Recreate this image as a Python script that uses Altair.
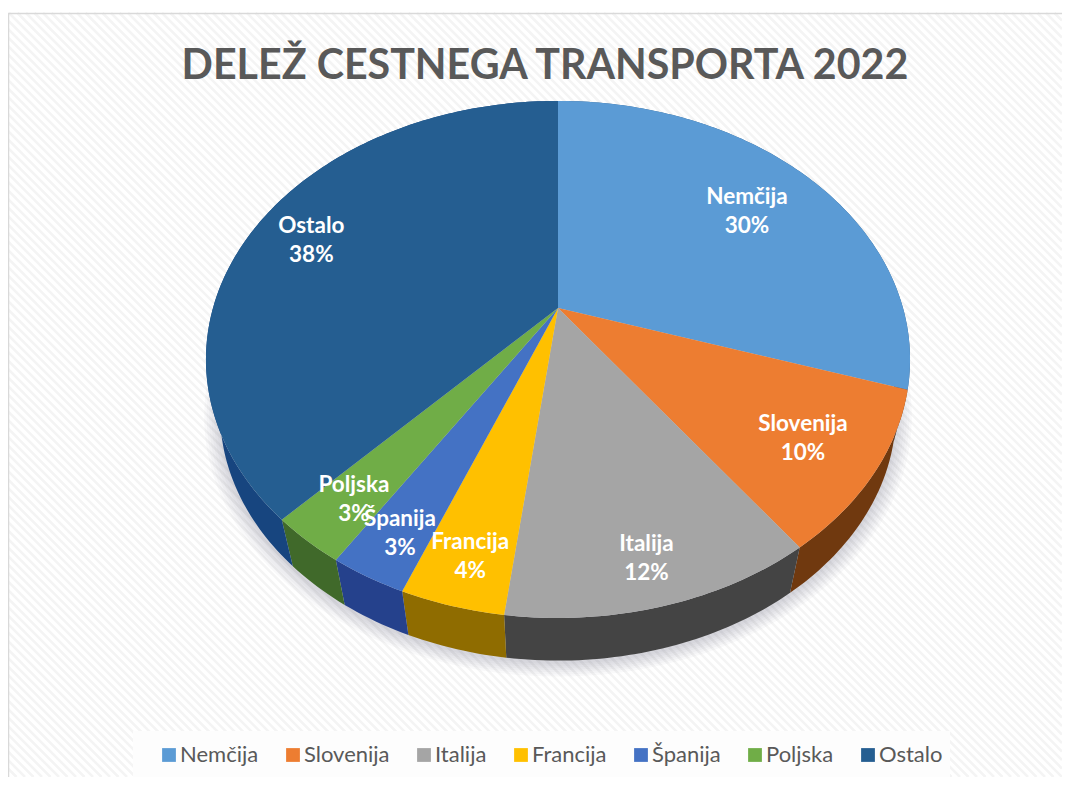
import math
import altair as alt

# ---- chart values ----
names = ["Nemčija", "Slovenija", "Italija", "Francija", "Španija", "Poljska", "Ostalo"]
shares = [30, 10, 12, 4, 3, 3, 38]
top_colors = ["#5B9BD5", "#ED7D31", "#A5A5A5", "#FFC000", "#4472C4", "#70AD47", "#255E91"]
wall_colors = ["#2f5f8c", "#70390f", "#444444", "#8f6c00", "#25418c", "#40692a", "#17457f"]
label_radius = [0.735, 0.796, 0.86, 0.855, 0.856, 0.838, 0.815]

# ---- layout (chart pixels; the page margin is 8) ----
W, H = 1054, 769
CX, CY = 550.0, 300.0     # apex of the pie
R, KY, K = 345.0, 248.3, 0.199   # tilted-disc perspective
DEPTH, SHRINK = 55.0, 0.96


def top(frac, t=1.0):
    a = 2 * math.pi * frac
    u, v = math.sin(a) * t, -math.cos(a) * t
    d = 1 - K * v
    return [CX + R * u / d, CY + KY * v / d]


def bottom(frac, grow=0.0):
    x, y = top(frac)
    return [CX + (SHRINK + grow) * (x - CX), CY + DEPTH + (SHRINK + grow) * (y - CY)]


def arc(fn, a, b):
    n = max(2, int((b - a) * 360))
    return [fn(a + (b - a) * i / n) for i in range(n + 1)]


def feature(kind, coords, **props):
    return {"type": "Feature", "geometry": {"type": kind, "coordinates": coords}, "properties": props}


def box(x0, y0, x1, y1):
    return feature("Polygon", [[[x0, y0], [x1, y0], [x1, y1], [x0, y1], [x0, y0]]])


proj = dict(type="identity", scale=1, translate=[0, 0])

# slices
tops, walls, labels = [], [], []
acc = 0.0
for i, (name, share) in enumerate(zip(names, shares)):
    a, b = acc / 100, (acc + share) / 100
    acc += share
    p_top = arc(top, a, b)
    p_bot = arc(bottom, a, b)
    tops.append(feature("Polygon", [[[CX, CY]] + p_top + [[CX, CY]]], name=name))
    walls.append(feature("Polygon", [p_top + p_bot[::-1] + [p_top[0]]], color=wall_colors[i]))
    lon, lat = top((a + b) / 2, label_radius[i])
    labels.append({"lon": lon, "lat": lat, "text": f"{name}\n{share}%"})

# soft shadow under the pie
shadow = []
for g in [0.045, 0.038, 0.031, 0.024, 0.017, 0.010, 0.004]:
    ring = [[*bottom(i / 180, g)] for i in range(181)]
    shadow.append(feature("Polygon", [[[p[0], p[1] + 2] for p in ring]]))

# hatch of the chart area
hatch = []
c = -H
while c < W:
    x0 = max(c + 5, 0)
    x1 = min(W, c + H)
    if x1 > x0:
        hatch.append([[x0, x0 - c], [x1, x1 - c]])
    c += 8.5

bg = alt.Chart(alt.Data(values=[box(0, 5, W, H)])).mark_geoshape(
    fill="white", strokeWidth=0).project(**proj)
hatch_layer = alt.Chart(alt.Data(values=[feature("MultiLineString", hatch)])).mark_geoshape(
    filled=False, stroke="#f4f4f4", strokeWidth=2.6).project(**proj)
frame = alt.Chart(alt.Data(values=[feature("LineString", [[0.5, H], [0.5, 5.5], [W, 5.5]])])).mark_geoshape(
    filled=False, stroke="#d9d9d9", strokeWidth=1.5).project(**proj)
legend_box = alt.Chart(alt.Data(values=[box(125, 723, 942, 769)])).mark_geoshape(
    fill="#fdfdfd", strokeWidth=0).project(**proj)
shadow_layer = alt.Chart(alt.Data(values=shadow)).mark_geoshape(
    fill="#5a5a70", opacity=0.035, strokeWidth=0).project(**proj)
wall_layer = alt.Chart(alt.Data(values=walls)).mark_geoshape(strokeWidth=0).encode(
    color=alt.Color("properties.color:N", scale=None)).project(**proj)
top_layer = alt.Chart(alt.Data(values=tops)).mark_geoshape(strokeWidth=0).encode(
    color=alt.Color(
        "properties.name:N",
        scale=alt.Scale(domain=names, range=top_colors),
        sort=names,
        legend=alt.Legend(
            title=None, orient="none", legendX=150, legendY=736, direction="horizontal", columns=7,
            gridAlign="none", symbolType="square", symbolSize=190, symbolStrokeWidth=0,
            labelFont="Lato", labelFontSize=22, labelColor="#595959", labelOffset=0,
            columnPadding=23, padding=0, labelLimit=200,
        ),
    )).project(**proj)
text_layer = alt.Chart(alt.Data(values=labels)).mark_text(
    font="Lato", fontSize=22.5, fontWeight="bold", color="white", lineBreak="\n", lineHeight=29,
    align="center", baseline="middle", dy=-12).encode(
    longitude="lon:Q", latitude="lat:Q", text="text:N").project(**proj)

chart = alt.layer(bg, hatch_layer, frame, legend_box, shadow_layer, wall_layer, top_layer, text_layer).properties(
    width=W, height=H, padding=0, autosize=alt.AutoSizeParams(type="none"),
    title=alt.TitleParams(
        "DELEŽ CESTNEGA TRANSPORTA 2022", font="Lato", fontSize=41.2, fontWeight="bold",
        color="#595959", anchor="middle", frame="group", offset=0, dy=112, dx=10, baseline="alphabetic",
    ),
).configure_view(stroke=None, clip=False)

chart.save("out.html", embed_options={"renderer": "svg", "actions": False})
